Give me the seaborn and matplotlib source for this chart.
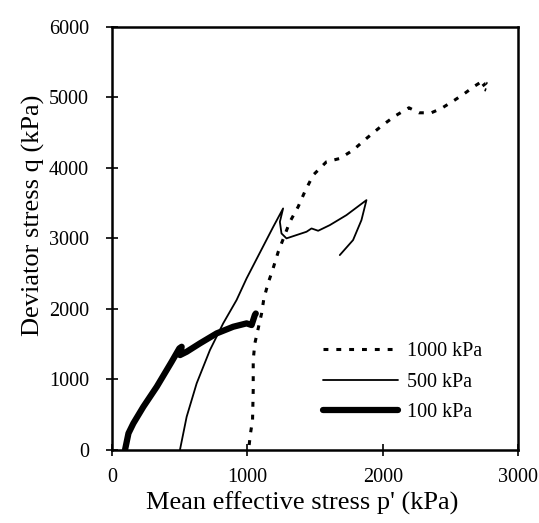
import matplotlib
matplotlib.use("Agg")
import matplotlib.pyplot as plt
import seaborn as sns
import pandas as pd

# 100 kPa confining pressure (thick line)
p_100 = [96, 121, 157, 231, 330, 440, 497, 514, 502, 551, 649, 773, 895, 994, 1031, 1055, 1062]
q_100 = [0, 230, 371, 607, 891, 1245, 1435, 1458, 1340, 1387, 1506, 1648, 1742, 1790, 1766, 1908, 1930]

# 500 kPa confining pressure (thin line)
p_500 = [502, 551, 625, 723, 821, 920, 994, 1191, 1264, 1240, 1252, 1289, 1363, 1437, 1474,
         1523, 1609, 1732, 1880, 1843, 1781, 1683]
q_500 = [0, 465, 939, 1411, 1790, 2121, 2428, 3160, 3421, 3231, 3066, 2996, 3043, 3090, 3137,
         3104, 3184, 3326, 3539, 3255, 2972, 2759]

# 1000 kPa confining pressure (dotted line)
p_1000 = [1013, 1023, 1038, 1043, 1043, 1055, 1080, 1105, 1122, 1154, 1186, 1228, 1314, 1375,
          1424, 1486, 1584, 1683, 1781, 1880, 1990, 2089, 2194, 2268, 2359, 2433, 2531, 2605,
          2679, 2740, 2765, 2720, 2765]
q_1000 = [64, 230, 418, 844, 1270, 1506, 1719, 1932, 2145, 2366, 2546, 2806, 3231, 3444,
          3657, 3894, 4082, 4130, 4248, 4414, 4589, 4730, 4849, 4778, 4778, 4839, 4957, 5052,
          5156, 5231, 5200, 5130, 5100]

sns.set_theme(style="white")
plt.rcParams['font.family'] = ['Liberation Serif', 'DejaVu Serif']

fig = plt.figure(figsize=(5.39, 5.23), dpi=100)
ax = fig.add_axes([0.208, 0.1405, 0.753, 0.8085])

df_1000 = pd.DataFrame({"p": p_1000, "q": q_1000})
df_500 = pd.DataFrame({"p": p_500, "q": q_500})
df_100 = pd.DataFrame({"p": p_100, "q": q_100})

sns.lineplot(data=df_1000, x="p", y="q", sort=False, estimator=None, ax=ax,
             color="black", lw=2.2, linestyle=(0, (1.6, 2.6)), label="1000 kPa")
sns.lineplot(data=df_500, x="p", y="q", sort=False, estimator=None, ax=ax,
             color="black", lw=1.3, label="500 kPa")
sns.lineplot(data=df_100, x="p", y="q", sort=False, estimator=None, ax=ax,
             color="black", lw=4.5, solid_capstyle="round", label="100 kPa")

ax.set_xlim(0, 3000)
ax.set_ylim(0, 6000)
ax.set_xticks([0, 1000, 2000, 3000])
ax.set_yticks([0, 1000, 2000, 3000, 4000, 5000, 6000])

for s in ax.spines.values():
    s.set_color("black")
    s.set_linewidth(1.8)

ax.tick_params(axis="both", bottom=True, left=True, direction="inout", length=9, width=1.2,
               color="black", labelsize=14.5, labelcolor="black")
ax.tick_params(axis="x", pad=9)
ax.tick_params(axis="y", pad=12)

ax.set_xlabel("Mean effective stress p' (kPa)", fontsize=19, color="black")
ax.set_ylabel("Deviator stress q (kPa)", fontsize=19, color="black")
ax.xaxis.set_label_coords(0.468, -0.1)
ax.yaxis.set_label_coords(-0.165, 0.555)

leg = ax.legend(loc="upper left", bbox_to_anchor=(0.52, 0.255), frameon=False,
                fontsize=14.5, handlelength=3.7, handletextpad=0.45, labelspacing=0.58,
                borderpad=0, borderaxespad=0)
for t in leg.get_texts():
    t.set_color("black")

plt.savefig("out.png", dpi=100)
plt.close(fig)
